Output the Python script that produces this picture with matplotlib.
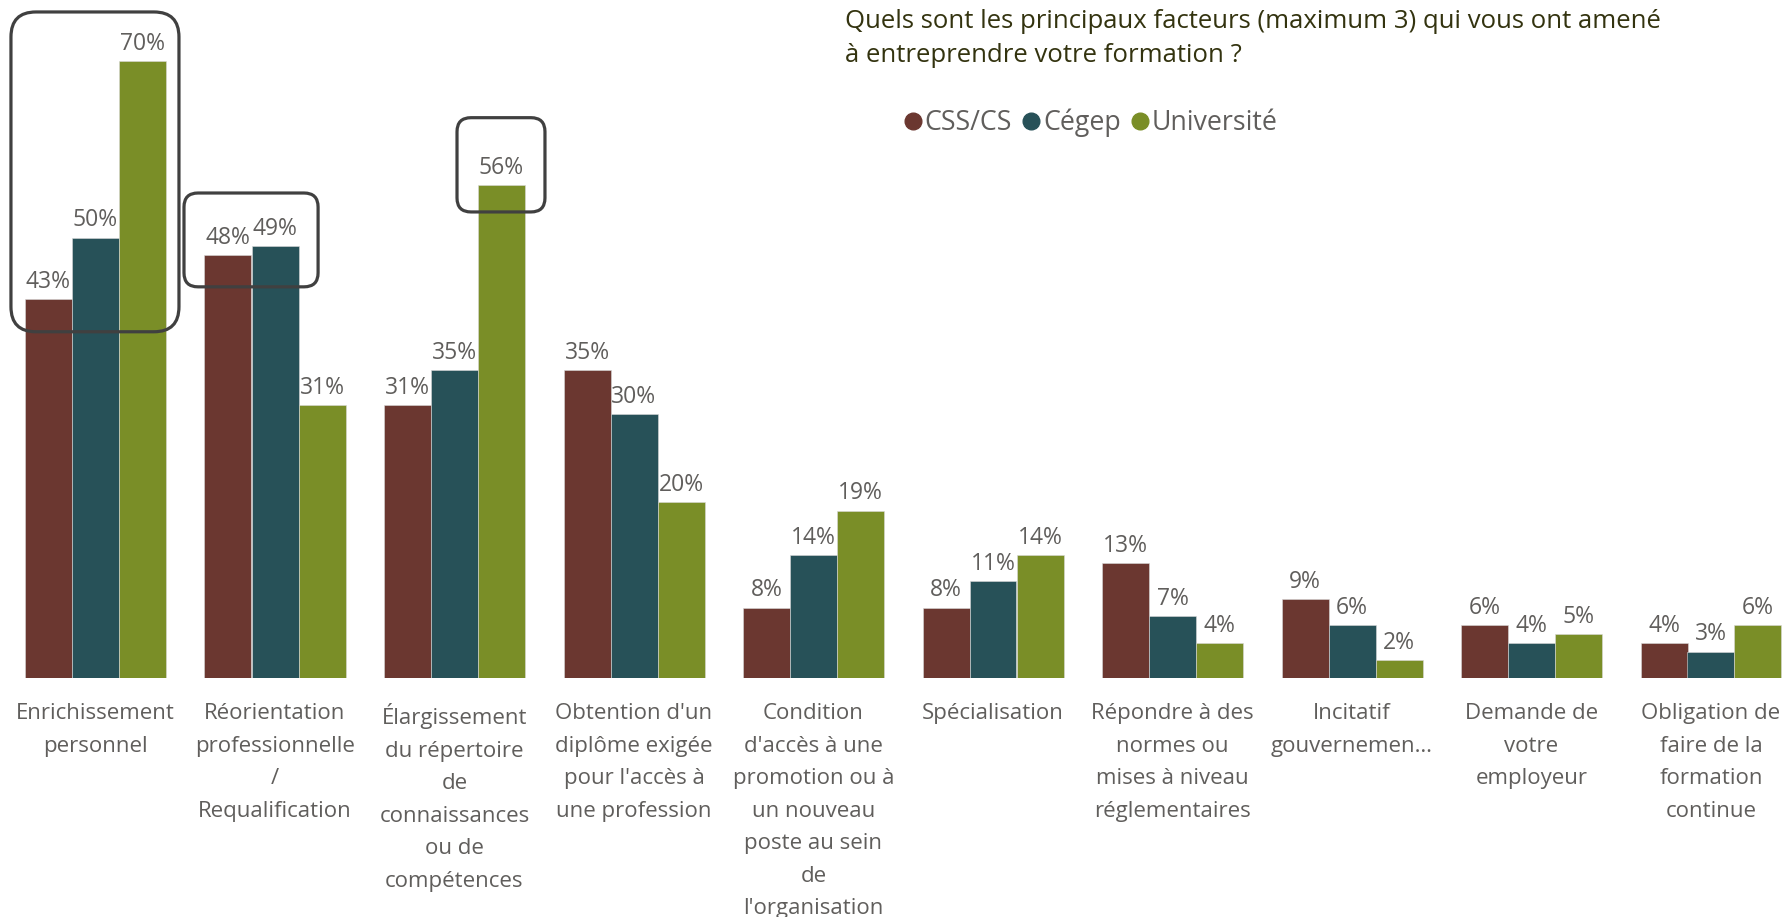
import matplotlib
matplotlib.use("Agg")
import matplotlib.pyplot as plt
import numpy as np
from matplotlib.patches import FancyBboxPatch
from matplotlib.lines import Line2D
from matplotlib.transforms import IdentityTransform

categories = [
    "Enrichissement\npersonnel",
    "Réorientation\nprofessionnelle\n/\nRequalification",
    "Élargissement\ndu répertoire\nde\nconnaissances\nou de\ncompétences",
    "Obtention d'un\ndiplôme exigée\npour l'accès à\nune profession",
    "Condition\nd'accès à une\npromotion ou à\nun nouveau\nposte au sein\nde\nl'organisation",
    "Spécialisation",
    "Répondre à des\nnormes ou\nmises à niveau\nréglementaires",
    "Incitatif\ngouvernemen…",
    "Demande de\nvotre\nemployeur",
    "Obligation de\nfaire de la\nformation\ncontinue",
]
series_names = ["CSS/CS", "Cégep", "Université"]
css = [43, 48, 31, 35, 8, 8, 13, 9, 6, 4]
cegep = [50, 49, 35, 30, 14, 11, 7, 6, 4, 3]
universite = [70, 31, 56, 20, 19, 14, 4, 2, 5, 6]
colors = ["#6B3730", "#275158", "#7A8E27"]

title = "Quels sont les principaux facteurs (maximum 3) qui vous ont amené\nà entreprendre votre formation ?"

plt.rcParams["font.family"] = ["Open Sans", "DejaVu Sans"]
grey = "#605E5C"

W, H = 1791, 917
fig = plt.figure(figsize=(W / 100, H / 100), dpi=100)
base_y = 678
ax = fig.add_axes([0, (H - base_y) / H, 1, base_y / H])

pitch = 179.5
c0 = 95.5
ax.set_xlim(-c0 / pitch, (W - c0) / pitch)
px_per_pct = 8.81
ax.set_ylim(0, base_y / px_per_pct)

x = np.arange(len(categories))
bw = 47 / pitch
for i, (vals, col) in enumerate(zip([css, cegep, universite], colors)):
    xs = x + (i - 1) * bw
    ax.bar(xs, vals, width=bw, color=col, edgecolor="#d9d9d9", linewidth=0.4)
    for xi, v in zip(xs, vals):
        ax.annotate(f"{v}%", (xi, v), xytext=(0, 8), textcoords="offset points",
                    ha="center", va="baseline", fontsize=16.5, color=grey)

ax.set_xticks(x)
ax.set_xticklabels(categories, fontsize=16, color=grey, linespacing=1.72)
ax.tick_params(axis="x", length=0, pad=18)
ax.set_yticks([])
for s in ax.spines.values():
    s.set_visible(False)

fig.text(845 / W, 1 - 9 / H, title, ha="left", va="top", fontsize=18.5,
         color="#33330F", linespacing=1.45)

handles = [Line2D([], [], marker="o", linestyle="", markersize=12,
                  markerfacecolor=c, markeredgecolor=c) for c in colors]
fig.legend(handles, series_names, loc="center left",
           bbox_to_anchor=(902 / W, 1 - 123 / H), ncol=3, frameon=False,
           fontsize=19.3, labelcolor=grey, handletextpad=0.05,
           columnspacing=0.3, handlelength=0.8, borderpad=0, borderaxespad=0)

# rounded highlight boxes (data coords -> pixels)
boxes = [(-0.471, 39.3, 0.465, 75.6, 25), (0.493, 44.4, 1.240, 55.05, 14),
         (2.014, 52.9, 2.504, 63.6, 14)]
fig.canvas.draw()
for x0, y0, x1, y1, r in boxes:
    (p0x, p0y), (p1x, p1y) = ax.transData.transform([(x0, y0), (x1, y1)])
    patch = FancyBboxPatch((p0x, p0y), p1x - p0x, p1y - p0y,
                           boxstyle=f"round,pad=0,rounding_size={r}",
                           transform=IdentityTransform(), fill=False,
                           edgecolor="#404040", linewidth=2.3, zorder=5)
    fig.patches.append(patch)

fig.savefig("out.png", dpi=100)
